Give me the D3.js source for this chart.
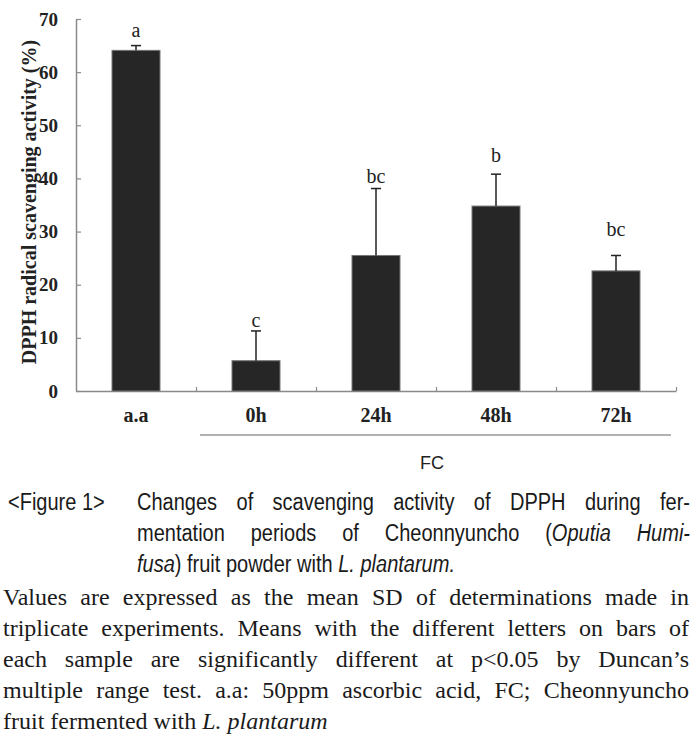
<!DOCTYPE html>
<html>
<head>
<meta charset="utf-8">
<script src="https://cdn.jsdelivr.net/npm/d3@7"></script>
<style>
  body { margin: 0; background: #fff; }
  svg { display: block; }
</style>
</head>
<body>
<script>

// Chart data
var categories = ["a.a", "0h", "24h", "48h", "72h"];
var means = [64.1, 5.7, 25.5, 34.8, 22.6];
var sds = [0.9, 5.6, 12.6, 6.0, 2.9];
var letters = ["a", "c", "bc", "b", "bc"];
var letterLevel = [66.6, 12.0, 39.1, 43.1, 29.2];
var yTicks = [0, 10, 20, 30, 40, 50, 60, 70];
var groupLabel = "FC";
var yLabel = "DPPH radical scavenging activity (%)";

var width = 698,
	height = 739;

var serif = "'Liberation Serif', 'Times New Roman', serif";
var sans = "'Liberation Sans', Arial, sans-serif";

var svg = d3.select("body").append("svg")
	.attr("width", width)
	.attr("height", height);

var x = d3.scaleBand()
	.domain(categories)
	.range([76, 676])
	.paddingInner(0.6)
	.paddingOuter(0.3);

var y = d3.scaleLinear()
	.domain([0, 70])
	.range([391, 19]);

var data = categories.map(function(c, i) {
	return {cat: c, mean: means[i], sd: sds[i], letter: letters[i], lev: letterLevel[i]};
});

// y axis, ticks point inwards
var yAxis = d3.axisLeft(y).tickValues(yTicks).tickSize(-5).tickSizeOuter(0).tickPadding(18);
var gy = svg.append("g")
	.attr("transform", "translate(76,0)")
	.call(yAxis);
gy.select(".domain").attr("stroke", "#8a8a8a").attr("stroke-width", 1.5);
gy.selectAll(".tick line").attr("stroke", "#8a8a8a").attr("stroke-width", 1.2);
gy.selectAll(".tick text")
	.attr("font-family", serif)
	.attr("font-size", 19)
	.attr("font-weight", "bold")
	.attr("fill", "#222");

// x axis: boundary ticks from a linear scale, labels from the band scale
var xb = d3.scaleLinear().domain([0, categories.length]).range(x.range());
var gxb = svg.append("g")
	.attr("transform", "translate(0,391)")
	.call(d3.axisBottom(xb).ticks(categories.length).tickSize(-4).tickSizeOuter(0).tickFormat(""));
gxb.select(".domain").attr("stroke", "#8a8a8a").attr("stroke-width", 1.5);
gxb.selectAll(".tick line").attr("stroke", "#8a8a8a").attr("stroke-width", 1.2);
gxb.selectAll(".tick").filter(function(d) { return d === 0; }).remove();

var gx = svg.append("g")
	.attr("transform", "translate(0,391)")
	.call(d3.axisBottom(x).tickSize(0).tickPadding(17));
gx.select(".domain").remove();
gx.selectAll(".tick text")
	.attr("font-family", serif)
	.attr("font-size", 20)
	.attr("font-weight", "bold")
	.attr("fill", "#222");

// bars
svg.selectAll("rect.bar")
	.data(data)
	.enter()
	.append("rect")
	.attr("class", "bar")
	.attr("x", function(d) { return x(d.cat); })
	.attr("y", function(d) { return y(d.mean); })
	.attr("width", x.bandwidth())
	.attr("height", function(d) { return y(0) - y(d.mean); })
	.attr("fill", "#262626")
	.attr("stroke", "#777")
	.attr("stroke-width", 1);

// error bars (upper half only)
var err = svg.selectAll("g.err")
	.data(data)
	.enter()
	.append("g")
	.attr("class", "err");
err.append("line")
	.attr("x1", function(d) { return x(d.cat) + x.bandwidth() / 2; })
	.attr("x2", function(d) { return x(d.cat) + x.bandwidth() / 2; })
	.attr("y1", function(d) { return y(d.mean); })
	.attr("y2", function(d) { return y(d.mean + d.sd); })
	.attr("stroke", "#222")
	.attr("stroke-width", 1.5);
err.append("line")
	.attr("x1", function(d) { return x(d.cat) + x.bandwidth() / 2 - 5; })
	.attr("x2", function(d) { return x(d.cat) + x.bandwidth() / 2 + 5; })
	.attr("y1", function(d) { return y(d.mean + d.sd); })
	.attr("y2", function(d) { return y(d.mean + d.sd); })
	.attr("stroke", "#222")
	.attr("stroke-width", 1.5);

// significance letters
svg.selectAll("text.letter")
	.data(data)
	.enter()
	.append("text")
	.attr("class", "letter")
	.attr("x", function(d) { return x(d.cat) + x.bandwidth() / 2; })
	.attr("y", function(d) { return y(d.lev); })
	.attr("text-anchor", "middle")
	.attr("font-family", serif)
	.attr("font-size", 20)
	.attr("fill", "#222")
	.text(function(d) { return d.letter; });

// y label
svg.append("text")
	.attr("transform", "translate(36,202) rotate(-90)")
	.attr("text-anchor", "middle")
	.attr("font-family", serif)
	.attr("font-size", 20)
	.attr("font-weight", "bold")
	.attr("fill", "#222")
	.text(yLabel);

// FC group bracket
svg.append("line")
	.attr("x1", x("0h") - 32)
	.attr("x2", x("72h") + x.bandwidth() + 31)
	.attr("y1", 435)
	.attr("y2", 435)
	.attr("stroke", "#999")
	.attr("stroke-width", 1.5);
svg.append("text")
	.attr("x", (x("0h") + x("72h") + x.bandwidth()) / 2 - 4)
	.attr("y", 469)
	.attr("text-anchor", "middle")
	.attr("font-family", sans)
	.attr("font-size", 18)
	.attr("fill", "#222")
	.text(groupLabel);

// caption lines; sans lines are squeezed to look like a narrow face
function textLine(parts, x0, y0, font, size, justifyTo, sx) {
	sx = sx || 1;
	var t = svg.append("text")
		.attr("transform", "translate(" + x0 + "," + y0 + ") scale(" + sx + ",1)")
		.attr("font-family", font)
		.attr("font-size", size)
		.attr("fill", "#1a1a1a");
	parts.forEach(function(p) {
		t.append("tspan")
			.attr("font-style", p[1] ? "italic" : "normal")
			.text(p[0]);
	});
	if (justifyTo) {
		var w = t.node().getComputedTextLength();
		var spaces = parts.map(function(p) { return p[0]; }).join("").split(" ").length - 1;
		if (spaces > 0) t.attr("word-spacing", ((justifyTo - x0) / sx - w) / spaces);
	}
	return t;
}

var sx = 0.87;
textLine([["<Figure 1>"]], 8, 510, sans, 23, null, sx);
textLine([["Changes of scavenging activity of DPPH during fer-"]], 137, 510, sans, 23, 690, sx);
textLine([["mentation periods of Cheonnyuncho ("], ["Oputia Humi-", true]], 137, 541, sans, 23, 690, sx);
textLine([["fusa", true], [") fruit powder with "], ["L. plantarum.", true]], 137, 572, sans, 23, null, sx);

textLine([["Values are expressed as the mean SD of determinations made in"]], 3, 605, serif, 24, 689);
textLine([["triplicate experiments. Means with the different letters on bars of"]], 3, 636, serif, 24, 689);
textLine([["each sample are significantly different at p<0.05 by Duncan\u2019s"]], 3, 667, serif, 24, 689);
textLine([["multiple range test. a.a: 50ppm ascorbic acid, FC; Cheonnyuncho"]], 3, 698, serif, 24, 689);
textLine([["fruit fermented with "], ["L. plantarum", true]], 3, 729, serif, 24);

</script>
</body>
</html>
